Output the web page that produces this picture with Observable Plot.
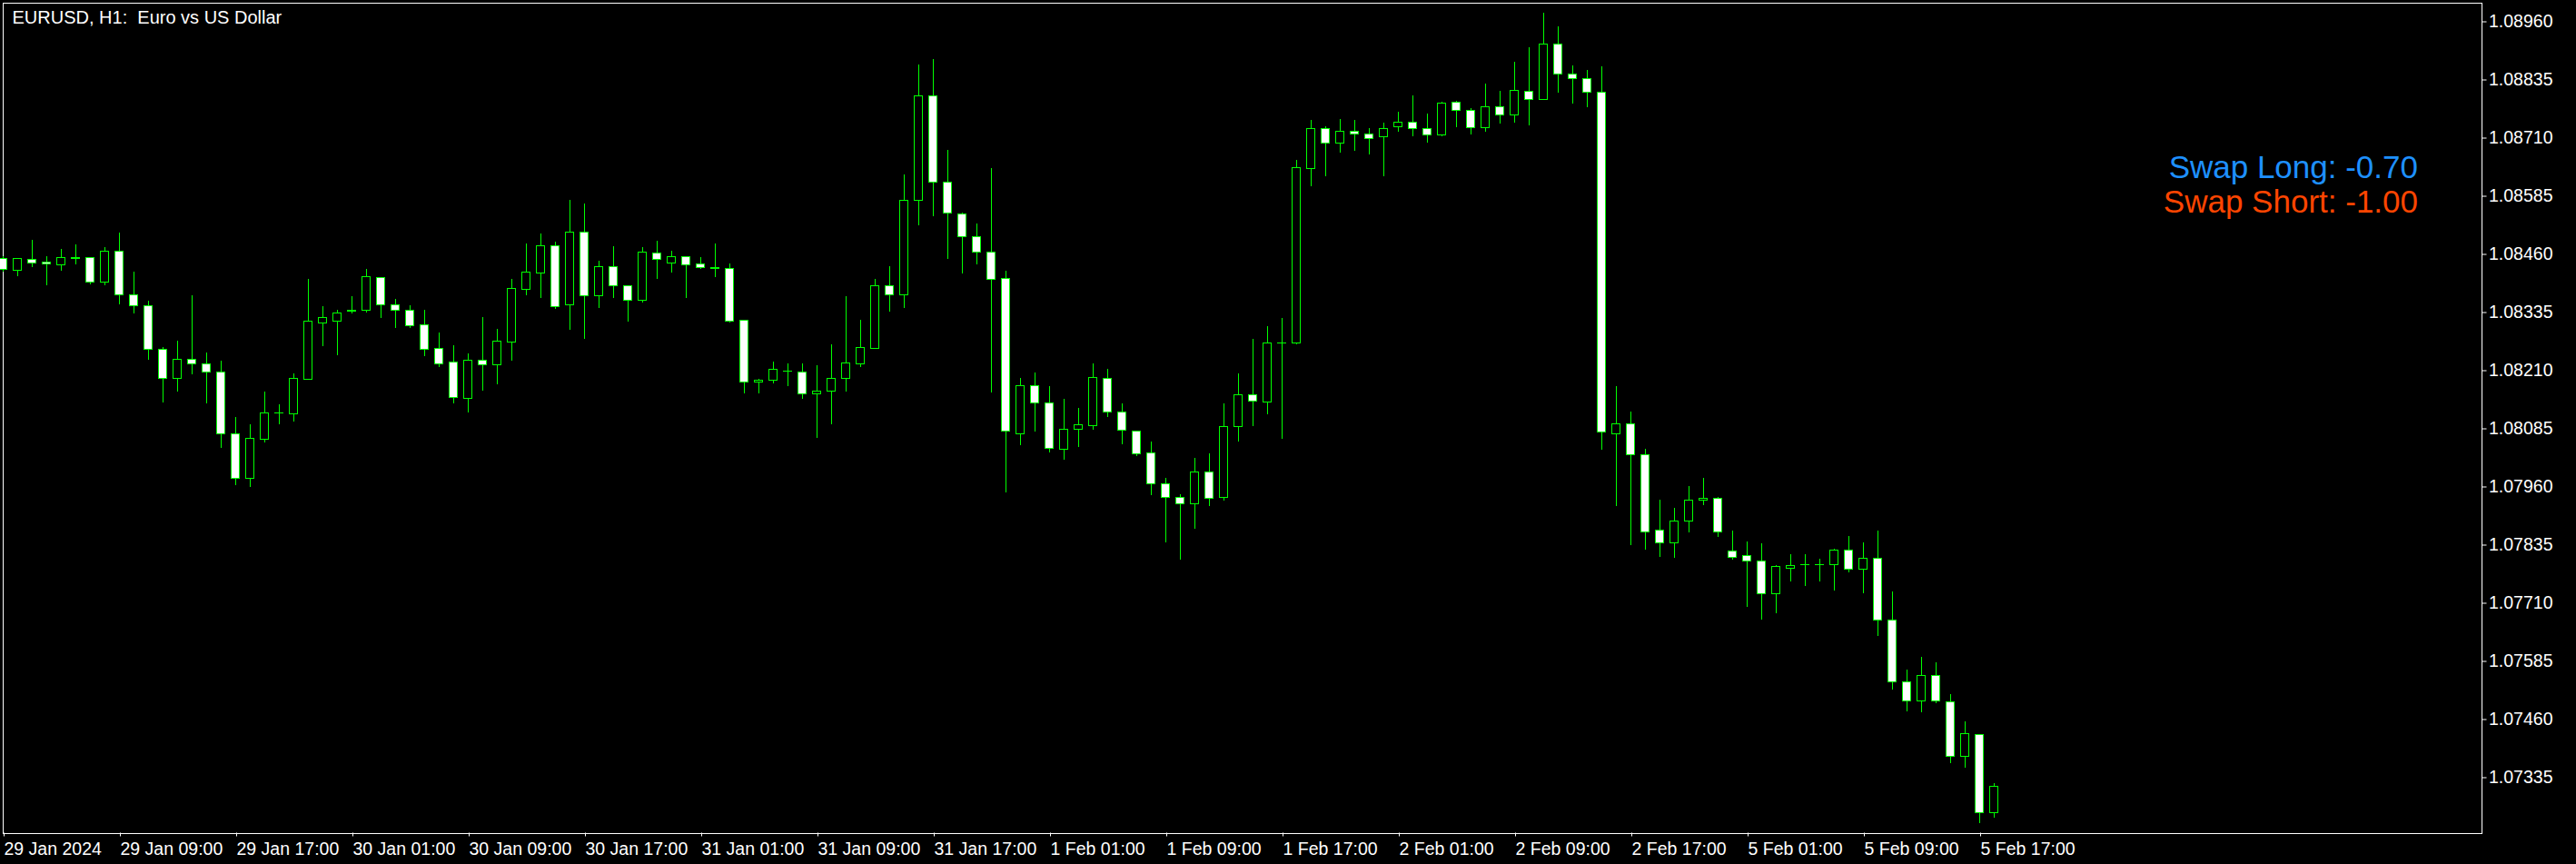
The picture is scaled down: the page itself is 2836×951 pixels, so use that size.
<!DOCTYPE html>
<html>
<head>
<meta charset="utf-8">
<script src="https://cdn.jsdelivr.net/npm/d3@7"></script>
<script src="https://cdn.jsdelivr.net/npm/@observablehq/plot@0.6"></script>
<style>
  html, body { margin: 0; padding: 0; background: #000; }
  svg { display: block; }
  svg text { white-space: pre; }
</style>
</head>
<body>
<script>
// EURUSD H1 candles, 29 Jan 2024 01:00 .. 5 Feb 2024 18:00 (bar index = position)
const open = [
1.08450,1.08424,1.08448,1.08442,1.08437,1.08451,1.08452,1.08400,1.08465,1.08373,
1.08349,1.08254,1.08193,1.08233,1.08224,1.08207,1.08074,1.07978,1.08062,1.08118,
1.08117,1.08191,1.08312,1.08316,1.08337,1.08338,1.08409,1.08350,1.08338,1.08307,
1.08257,1.08227,1.08150,1.08231,1.08222,1.08271,1.08384,1.08419,1.08477,1.08351,
1.08506,1.08371,1.08432,1.08391,1.08361,1.08461,1.08441,1.08454,1.08438,1.08429,
1.08428,1.08317,1.08184,1.08188,1.08208,1.08206,1.08159,1.08165,1.08192,1.08224,
1.08257,1.08391,1.08372,1.08575,1.08799,1.08614,1.08545,1.08498,1.08463,1.08407,
1.08073,1.08176,1.08139,1.08041,1.08084,1.08090,1.08192,1.08120,1.08079,1.08032,
1.07965,1.07936,1.07922,1.07991,1.07936,1.08088,1.08157,1.08141,1.08268,1.08268,
1.08643,1.08729,1.08698,1.08723,1.08717,1.08711,1.08733,1.08743,1.08729,1.08715,
1.08786,1.08768,1.08731,1.08776,1.08758,1.08809,1.08793,1.08911,1.08846,1.08836,
1.08807,1.08074,1.08094,1.08028,1.07866,1.07838,1.07885,1.07930,1.07934,1.07821,
1.07811,1.07799,1.07729,1.07784,1.07792,1.07792,1.07793,1.07823,1.07782,1.07805,
1.07672,1.07541,1.07500,1.07553,1.07498,1.07379,1.07426,1.07258];
const high = [
1.08456,1.08452,1.08491,1.08456,1.08470,1.08480,1.08454,1.08475,1.08505,1.08421,
1.08360,1.08259,1.08274,1.08372,1.08249,1.08230,1.08110,1.08093,1.08165,1.08136,
1.08204,1.08407,1.08347,1.08339,1.08370,1.08427,1.08410,1.08364,1.08349,1.08339,
1.08292,1.08263,1.08247,1.08325,1.08298,1.08407,1.08483,1.08503,1.08487,1.08577,
1.08569,1.08446,1.08476,1.08393,1.08474,1.08489,1.08466,1.08456,1.08454,1.08483,
1.08439,1.08318,1.08192,1.08228,1.08224,1.08224,1.08220,1.08265,1.08370,1.08319,
1.08407,1.08433,1.08630,1.08868,1.08878,1.08683,1.08548,1.08526,1.08644,1.08423,
1.08194,1.08206,1.08175,1.08148,1.08128,1.08224,1.08212,1.08138,1.08081,1.08056,
1.07978,1.07944,1.08022,1.08032,1.08138,1.08204,1.08278,1.08304,1.08323,1.08663,
1.08749,1.08735,1.08751,1.08749,1.08730,1.08743,1.08765,1.08800,1.08761,1.08788,
1.08790,1.08774,1.08827,1.08810,1.08874,1.08905,1.08978,1.08950,1.08866,1.08855,
1.08864,1.08175,1.08122,1.08042,1.07931,1.07915,1.07960,1.07978,1.07937,1.07866,
1.07841,1.07837,1.07792,1.07815,1.07814,1.07804,1.07827,1.07853,1.07839,1.07866,
1.07735,1.07567,1.07593,1.07583,1.07513,1.07456,1.07427,1.07323];
const low = [
1.08421,1.08412,1.08431,1.08392,1.08423,1.08437,1.08394,1.08392,1.08351,1.08332,
1.08232,1.08140,1.08165,1.08202,1.08138,1.08043,1.07962,1.07959,1.08054,1.08093,
1.08099,1.08190,1.08261,1.08243,1.08332,1.08335,1.08323,1.08300,1.08300,1.08241,
1.08216,1.08138,1.08119,1.08166,1.08179,1.08231,1.08372,1.08366,1.08341,1.08296,
1.08278,1.08343,1.08366,1.08314,1.08355,1.08407,1.08419,1.08366,1.08427,1.08411,
1.08312,1.08161,1.08160,1.08181,1.08175,1.08148,1.08064,1.08093,1.08164,1.08216,
1.08255,1.08336,1.08343,1.08521,1.08541,1.08449,1.08418,1.08437,1.08162,1.07947,
1.08048,1.08078,1.08033,1.08017,1.08045,1.08083,1.08109,1.08050,1.08025,1.07941,
1.07839,1.07802,1.07869,1.07918,1.07929,1.08056,1.08090,1.08116,1.08063,1.08266,
1.08605,1.08627,1.08677,1.08681,1.08673,1.08627,1.08722,1.08713,1.08699,1.08713,
1.08732,1.08716,1.08722,1.08740,1.08742,1.08736,1.08792,1.08806,1.08783,1.08775,
1.08039,1.07918,1.07834,1.07824,1.07808,1.07806,1.07861,1.07920,1.07851,1.07803,
1.07701,1.07673,1.07687,1.07756,1.07746,1.07756,1.07736,1.07776,1.07730,1.07638,
1.07523,1.07476,1.07474,1.07494,1.07365,1.07355,1.07236,1.07248];
const close = [
1.08426,1.08450,1.08441,1.08438,1.08452,1.08451,1.08400,1.08465,1.08373,1.08349,
1.08254,1.08193,1.08233,1.08224,1.08207,1.08074,1.07978,1.08063,1.08118,1.08118,
1.08192,1.08315,1.08323,1.08334,1.08337,1.08411,1.08351,1.08338,1.08306,1.08254,
1.08224,1.08152,1.08231,1.08222,1.08272,1.08385,1.08420,1.08477,1.08347,1.08506,
1.08371,1.08432,1.08391,1.08360,1.08463,1.08448,1.08454,1.08436,1.08430,1.08429,
1.08316,1.08185,1.08188,1.08211,1.08207,1.08159,1.08165,1.08192,1.08225,1.08258,
1.08391,1.08372,1.08575,1.08799,1.08614,1.08547,1.08498,1.08463,1.08406,1.08079,
1.08176,1.08139,1.08043,1.08084,1.08092,1.08194,1.08120,1.08081,1.08030,1.07965,
1.07936,1.07922,1.07991,1.07934,1.08088,1.08157,1.08143,1.08268,1.08270,1.08645,
1.08729,1.08698,1.08723,1.08717,1.08709,1.08729,1.08743,1.08729,1.08715,1.08784,
1.08768,1.08731,1.08776,1.08758,1.08811,1.08793,1.08911,1.08846,1.08836,1.08807,
1.08077,1.08094,1.08028,1.07862,1.07838,1.07885,1.07930,1.07934,1.07862,1.07807,
1.07799,1.07729,1.07788,1.07791,1.07792,1.07792,1.07823,1.07782,1.07805,1.07672,
1.07541,1.07500,1.07553,1.07500,1.07379,1.07428,1.07258,1.07315];

const tickBars = [0,8,16,24,32,40,48,56,64,72,80,88,96,104,112,120,128,136];
const tickLabels = ["29 Jan 2024","29 Jan 09:00","29 Jan 17:00","30 Jan 01:00","30 Jan 09:00",
  "30 Jan 17:00","31 Jan 01:00","31 Jan 09:00","31 Jan 17:00","1 Feb 01:00","1 Feb 09:00",
  "1 Feb 17:00","2 Feb 01:00","2 Feb 09:00","2 Feb 17:00","5 Feb 01:00","5 Feb 09:00","5 Feb 17:00"];
const priceTicks = [1.08960,1.08835,1.08710,1.08585,1.08460,1.08335,1.08210,1.08085,
  1.07960,1.07835,1.07710,1.07585,1.07460,1.07335];
const titleText = "EURUSD, H1:  Euro vs US Dollar";
const swapLong = "Swap Long: -0.70";
const swapShort = "Swap Short: -1.00";

const candles = open.map((o, i) => ({i, open: o, high: high[i], low: low[i], close: close[i]}));
const labelOf = new Map(tickBars.map((b, k) => [b, tickLabels[k]]));
const hw = 0.28125;
const green = "#00ff00";

const chart = Plot.plot({
  width: 2836,
  height: 951,
  marginLeft: 2.5,
  marginRight: 104.5,
  marginTop: 2.5,
  marginBottom: 34.5,
  x: {domain: [0, 170.5625], axis: null},
  y: {domain: [1.07215859, 1.09001016], axis: null},
  style: {background: "#000", color: "#fff", fontFamily: "'Liberation Sans', Arial, sans-serif", fontSize: "19.5px"},
  marks: [
    Plot.frame({stroke: "#fff", shapeRendering: "crispEdges"}),
    Plot.ruleX(candles, {x: "i", y1: "low", y2: "high", stroke: green, strokeWidth: 1, shapeRendering: "crispEdges"}),
    Plot.rect(candles, {
      x1: d => d.i - hw, x2: d => d.i + hw,
      y1: "open",
      y2: d => Math.abs(d.close - d.open) < 0.00002 ? d.open + 0.00001 : d.close,
      fill: d => d.close < d.open ? "white" : "black",
      stroke: green, strokeWidth: 1, shapeRendering: "crispEdges"
    }),
    Plot.axisY(priceTicks, {anchor: "right", tickSize: 5, tickPadding: 3, tickFormat: d => d.toFixed(5), label: null, stroke: "#fff", fill: "#fff"}),
    Plot.axisX(tickBars, {anchor: "bottom", tickSize: 4, tickPadding: 6.5, tickFormat: b => labelOf.get(b), textAnchor: "start", dx: 1.5, label: null, stroke: "#fff", fill: "#fff"}),
    Plot.text([titleText], {frameAnchor: "top-left", dx: 10.5, dy: 8.3, textAnchor: "start", lineAnchor: "top", fill: "#fff", fontSize: 20}),
    Plot.text([swapLong], {frameAnchor: "top-right", dx: -70, dy: 167.7, textAnchor: "end", lineAnchor: "top", fill: "#1e90ff", fontSize: 35, fontFamily: "'Liberation Sans', Arial, sans-serif"}),
    Plot.text([swapShort], {frameAnchor: "top-right", dx: -70, dy: 205.7, textAnchor: "end", lineAnchor: "top", fill: "#ff4500", fontSize: 35, fontFamily: "'Liberation Sans', Arial, sans-serif"})
  ]
});
document.body.appendChild(chart);
</script>
</body>
</html>
